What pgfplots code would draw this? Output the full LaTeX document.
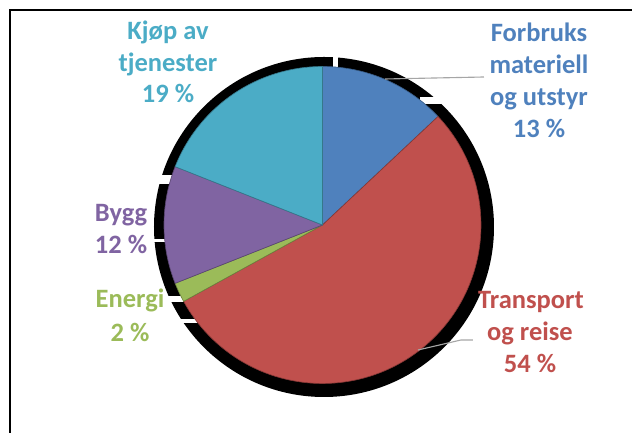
\documentclass[border=0pt]{standalone}
\usepackage{pgfplots}
\pgfplotsset{compat=1.18}
\usepackage{fontspec}
\setmainfont{Carlito}

\definecolor{cBlue}{HTML}{4F81BD}
\definecolor{cRed}{HTML}{C0504D}
\definecolor{cGreen}{HTML}{9BBB59}
\definecolor{cPurple}{HTML}{8064A2}
\definecolor{cAqua}{HTML}{4BACC6}
\definecolor{leader}{HTML}{A6A6A6}

% one line of a data label, placed on its baseline (pixel coords, y up)
\newcommand{\lbl}[4]{\node[anchor=base, inner sep=0pt, text=#1,
  font=\bfseries\fontsize{10.6pt}{12pt}\selectfont] at (axis cs:#2,#3) {#4};}

\begin{document}
\begin{tikzpicture}
\begin{axis}[
  x=0.4pt, y=0.4pt,
  xmin=0, xmax=632, ymin=0, ymax=433,
  hide axis, clip=false,
]
% shadow behind the pie
\fill[black] (axis cs:324,206) circle[radius=68pt];
\fill[white] (axis cs:333,366) rectangle (axis cs:338,384);
\fill[white] (axis cs:420,329) rectangle (axis cs:505,336);
\fill[white] (axis cs:145,249) rectangle (axis cs:172,258);
\fill[white] (axis cs:145,191) rectangle (axis cs:165,194);
\fill[white] (axis cs:140,131) rectangle (axis cs:190,137);
\fill[white] (axis cs:140,110) rectangle (axis cs:200,114);

% slices, clockwise from the top: share in percent
\gdef\angA{90}
\foreach \p/\c in {13/cBlue,54/cRed,2/cGreen,12/cPurple,19/cAqua}{%
  \pgfmathsetmacro{\angB}{\angA-3.6*\p}%
  \edef\slice{\noexpand\fill[\c, draw=\c!70!black, line width=0.25pt]
    (axis cs:322.5,208) -- (axis cs:{322.5+158.5*cos(\angA)},{208+158.5*sin(\angA)})
    arc[start angle=\angA, end angle=\angB, radius=63.4pt] -- cycle;}%
  \slice
  \xdef\angA{\angB}%
}

% leader lines
\draw[leader, line width=0.45pt] (axis cs:385,354) -- (axis cs:484,356);
\draw[leader, line width=0.45pt] (axis cs:418,83) -- (axis cs:461,93) -- (axis cs:473,93);

% labels
\lbl{cBlue}{539}{391}{Forbruks}
\lbl{cBlue}{539}{359}{materiell}
\lbl{cBlue}{539}{327}{og utstyr}
\lbl{cBlue}{539}{295}{13 \%}

\lbl{cRed}{531}{124}{Transport}
\lbl{cRed}{530}{92}{og reise}
\lbl{cRed}{530}{60}{54 \%}

\lbl{cGreen}{130}{125}{Energi}
\lbl{cGreen}{130}{91}{2 \%}

\lbl{cPurple}{121}{211}{Bygg}
\lbl{cPurple}{121}{179}{12 \%}

\lbl{cAqua}{168}{393}{Kjøp av}
\lbl{cAqua}{168}{361}{tjenester}
\lbl{cAqua}{168}{330}{19 \%}

% frame (right and bottom edges lie outside the picture)
\draw[black, line width=0.8pt] (axis cs:10,-10) -- (axis cs:10,423) -- (axis cs:650,423);
\end{axis}
\pgfresetboundingbox
\useasboundingbox (0,0) rectangle (252.8pt,173.2pt);
\end{tikzpicture}
\end{document}
